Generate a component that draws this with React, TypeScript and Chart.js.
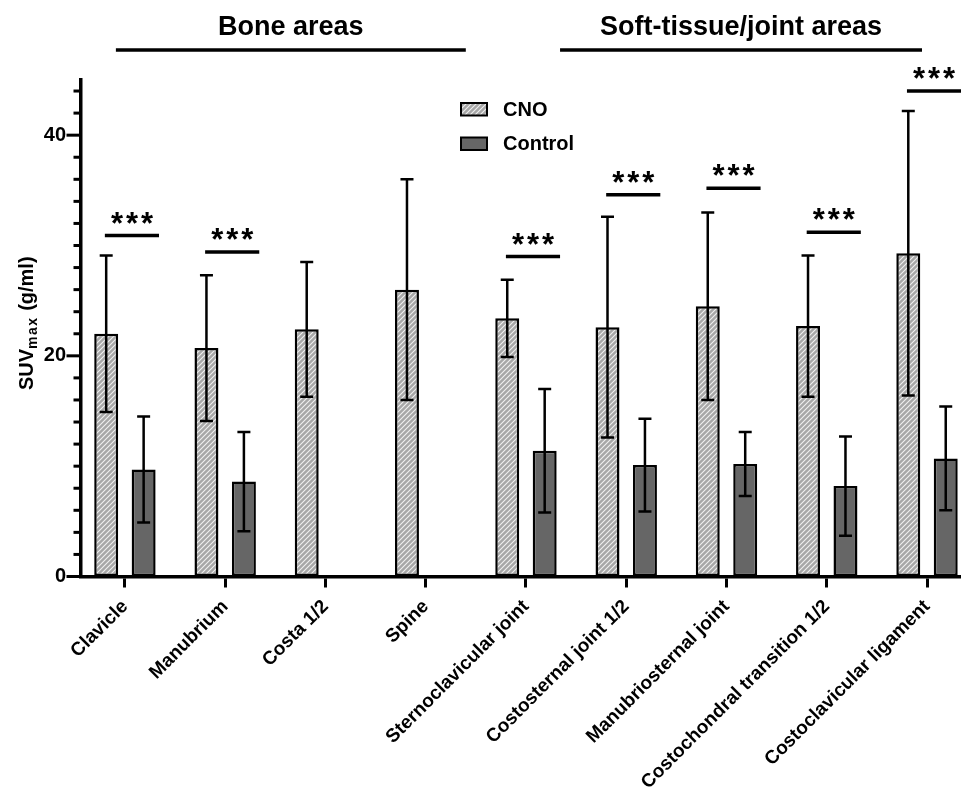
import React, { useEffect, useRef } from 'react';
import { Chart, registerables } from 'chart.js';

Chart.register(...registerables);

const categories = [
  'Clavicle',
  'Manubrium',
  'Costa 1/2',
  'Spine',
  'Sternoclavicular joint',
  'Costosternal joint 1/2',
  'Manubriosternal joint',
  'Costochondral transition 1/2',
  'Costoclavicular ligament',
];
const seriesNames = ['CNO', 'Control'];
const cnoMean = [22.0, 20.7, 22.4, 26.0, 23.4, 22.6, 24.5, 22.7, 29.3];
const cnoSD = [7.1, 6.6, 6.1, 10.0, 3.5, 10.0, 8.5, 6.4, 12.9];
const controlMean: (number | null)[] = [9.7, 8.6, null, null, 11.4, 10.1, 10.2, 8.2, 10.7];
const controlSD: (number | null)[] = [4.8, 4.5, null, null, 5.6, 4.2, 2.9, 4.5, 4.7];
const significanceY: (number | null)[] = [30.9, 29.4, null, null, 29.0, 34.6, 35.2, 31.2, 44.0];
const significanceText = ['***', '***', '', '', '***', '***', '***', '***', '***'];
const groupLabels = ['Bone areas', 'Soft-tissue/joint areas'];
const groupFirst = [0, 4];
const groupLast = [3, 8];
const yMajorTicks = [0, 20, 40];
const yMax = 45;
const yMinorStep = 2;
const yTitleMain = 'SUV';
const yTitleSub = 'max';
const yTitleUnit = ' (g/ml)';

const FONT = "'Liberation Sans', Arial, Helvetica, sans-serif";
const CONTROL_COLOR = '#666666';

function makeHatch(ctx: CanvasRenderingContext2D): CanvasPattern | string {
  const s = 5;
  const c = document.createElement('canvas');
  c.width = s;
  c.height = s;
  const g = c.getContext('2d');
  if (!g) return '#bdbdbd';
  g.fillStyle = '#a7a7a7';
  g.fillRect(0, 0, s, s);
  g.strokeStyle = '#f0f0f0';
  g.lineWidth = 1.1;
  g.beginPath();
  g.moveTo(0, s);
  g.lineTo(s, 0);
  g.moveTo(-1, 1);
  g.lineTo(1, -1);
  g.moveTo(s - 1, s + 1);
  g.lineTo(s + 1, s - 1);
  g.stroke();
  return ctx.createPattern(c, 'repeat') || '#bdbdbd';
}

export default function App() {
  const ref = useRef<HTMLCanvasElement | null>(null);

  useEffect(() => {
    document.body.style.margin = '0';
    const canvas = ref.current;
    if (!canvas) return;
    const ctx0 = canvas.getContext('2d') as CanvasRenderingContext2D;
    const hatch = makeHatch(ctx0);

    const overlay = {
      id: 'overlay',
      afterDatasetsDraw(chart: any) {
        const ctx = chart.ctx as CanvasRenderingContext2D;
        const y = chart.scales.y;
        const sets: [(number | null)[], (number | null)[]][] = [
          [cnoMean, cnoSD],
          [controlMean, controlSD],
        ];
        ctx.save();
        ctx.strokeStyle = '#000';
        ctx.lineWidth = 2.5;
        ctx.lineCap = 'butt';
        sets.forEach(([m, sd], di) => {
          const meta = chart.getDatasetMeta(di);
          meta.data.forEach((el: any, i: number) => {
            const mv = m[i];
            const sv = sd[i];
            if (mv == null || sv == null) return;
            const px = el.x;
            const top = y.getPixelForValue(mv + sv);
            const bot = y.getPixelForValue(mv - sv);
            ctx.beginPath();
            ctx.moveTo(px, top);
            ctx.lineTo(px, bot);
            ctx.moveTo(px - 6.5, top);
            ctx.lineTo(px + 6.5, top);
            ctx.moveTo(px - 6.5, bot);
            ctx.lineTo(px + 6.5, bot);
            ctx.stroke();
          });
        });
        ctx.restore();
      },
      afterDraw(chart: any) {
        const ctx = chart.ctx as CanvasRenderingContext2D;
        const x = chart.scales.x;
        const y = chart.scales.y;
        const area = chart.chartArea;
        ctx.save();

        // y-axis tick marks (major + minor)
        ctx.strokeStyle = '#000';
        ctx.lineWidth = 3;
        for (let v = 0; v < y.max; v += yMinorStep) {
          const py = y.getPixelForValue(v);
          const len = yMajorTicks.includes(v) ? 13 : 6;
          ctx.beginPath();
          ctx.moveTo(area.left, py);
          ctx.lineTo(area.left - 1.5 - len, py);
          ctx.stroke();
        }

        // significance brackets
        significanceY.forEach((sv, i) => {
          if (sv == null) return;
          const x1 = x.getPixelForValue(i - 0.2);
          const x2 = x.getPixelForValue(i + 0.34);
          const py = y.getPixelForValue(sv);
          ctx.lineWidth = 3.5;
          ctx.beginPath();
          ctx.moveTo(x1, py);
          ctx.lineTo(x2, py);
          ctx.stroke();
          const cx = (x1 + x2) / 2;
          ctx.font = `bold 31px ${FONT}`;
          ctx.fillStyle = '#000';
          ctx.textAlign = 'center';
          ctx.textBaseline = 'alphabetic';
          const m = ctx.measureText('*');
          const targetCenter = py - 18;
          const base = targetCenter - (m.actualBoundingBoxDescent - m.actualBoundingBoxAscent) / 2;
          const n = significanceText[i].length;
          for (let k = 0; k < n; k++) {
            ctx.fillText('*', cx + (k - (n - 1) / 2) * 15, base);
          }
        });

        // group headers
        groupLabels.forEach((label, gi) => {
          const offL = gi === 0 ? -0.09 : 0.34;
          const offR = gi === 0 ? 0.4 : -0.05;
          const x1 = x.getPixelForValue(groupFirst[gi] + offL);
          const x2 = x.getPixelForValue(groupLast[gi] + offR);
          ctx.lineWidth = 3.5;
          ctx.beginPath();
          ctx.moveTo(x1, 50);
          ctx.lineTo(x2, 50);
          ctx.stroke();
          ctx.font = `bold 27px ${FONT}`;
          ctx.textAlign = 'center';
          ctx.textBaseline = 'alphabetic';
          ctx.fillStyle = '#000';
          ctx.fillText(label, (x1 + x2) / 2, 35);
        });

        // legend
        const fills = [hatch, CONTROL_COLOR];
        seriesNames.forEach((name, i) => {
          const by = 103 + i * 34.5;
          ctx.fillStyle = fills[i] as any;
          ctx.fillRect(461, by, 26, 12.5);
          ctx.lineWidth = 2;
          ctx.strokeStyle = '#000';
          ctx.strokeRect(461, by, 26, 12.5);
          ctx.fillStyle = '#000';
          ctx.font = `bold 20px ${FONT}`;
          ctx.textAlign = 'left';
          ctx.textBaseline = 'middle';
          ctx.fillText(name, 503, by + 7);
        });

        // y title with subscript
        const midY = (area.top + area.bottom) / 2 - 5;
        ctx.translate(33, midY);
        ctx.rotate(-Math.PI / 2);
        ctx.textAlign = 'left';
        ctx.textBaseline = 'alphabetic';
        ctx.font = `bold 20px ${FONT}`;
        const w1 = ctx.measureText(yTitleMain).width;
        const w3 = ctx.measureText(yTitleUnit).width;
        ctx.font = `bold 14px ${FONT}`;
        (ctx as any).letterSpacing = '1.5px';
        const w2 = ctx.measureText(yTitleSub).width;
        (ctx as any).letterSpacing = '0px';
        const total = w1 + w2 + w3;
        let cx = -total / 2;
        ctx.fillStyle = '#000';
        ctx.font = `bold 20px ${FONT}`;
        ctx.fillText(yTitleMain, cx, 0);
        cx += w1;
        ctx.font = `bold 14px ${FONT}`;
        (ctx as any).letterSpacing = '1.5px';
        ctx.fillText(yTitleSub, cx, 4);
        (ctx as any).letterSpacing = '0px';
        cx += w2;
        ctx.font = `bold 20px ${FONT}`;
        ctx.fillText(yTitleUnit, cx, 0);

        ctx.restore();
      },
    };

    const chart = new Chart(canvas, {
      type: 'bar',
      data: {
        datasets: [
          {
            label: seriesNames[0],
            data: cnoMean.map((v, i) => ({ x: i, y: v })),
            backgroundColor: hatch as any,
            borderColor: '#000',
            borderWidth: 2.5,
            borderSkipped: false,
          },
          {
            label: seriesNames[1],
            data: controlMean.map((v, i) => ({ x: i, y: v })) as any,
            backgroundColor: CONTROL_COLOR,
            borderColor: '#000',
            borderWidth: 2.5,
            borderSkipped: false,
          },
        ],
      },
      options: {
        animation: false,
        responsive: false,
        devicePixelRatio: 1,
        categoryPercentage: 0.747,
        barPercentage: 0.64,
        layout: { padding: { top: 80, left: 0, right: 0, bottom: 0 } },
        plugins: {
          legend: { display: false },
          tooltip: { enabled: false },
        },
        scales: {
          x: {
            type: 'linear',
            min: -0.438,
            max: categories.length - 1 + 0.339,
            offset: false,
            afterFit: (s: any) => {
              s.height = 213.5;
            },
            ticks: {
              stepSize: 1,
              includeBounds: false,
              autoSkip: false,
              maxRotation: 45,
              minRotation: 45,
              padding: 8,
              color: '#000',
              font: { family: FONT, size: 19, weight: 'bold' },
              callback: (v: any) => categories[v as number] ?? '',
            },
            grid: {
              display: true,
              offset: false,
              drawOnChartArea: false,
              drawTicks: true,
              tickLength: 11,
              tickWidth: 3,
              tickColor: '#000',
            },
            border: { display: true, color: '#000', width: 3.5 },
          },
          y: {
            type: 'linear',
            min: 0,
            max: yMax,
            afterFit: (s: any) => {
              s.width = 81;
            },
            ticks: {
              stepSize: 20,
              includeBounds: false,
              padding: 15,
              color: '#000',
              font: { family: FONT, size: 20, weight: 'bold' },
              callback: (v: any) => (yMajorTicks.includes(v as number) ? String(v) : ''),
            },
            grid: { display: true, offset: false, drawOnChartArea: false, drawTicks: false },
            border: { display: true, color: '#000', width: 3.5 },
          },
        },
      } as any,
      plugins: [overlay],
    });

    return () => chart.destroy();
  }, []);

  return (
    <div style={{ width: 961, height: 790, background: '#fff' }}>
      <canvas ref={ref} width={961} height={790} style={{ display: 'block', width: 961, height: 790 }} />
    </div>
  );
}
